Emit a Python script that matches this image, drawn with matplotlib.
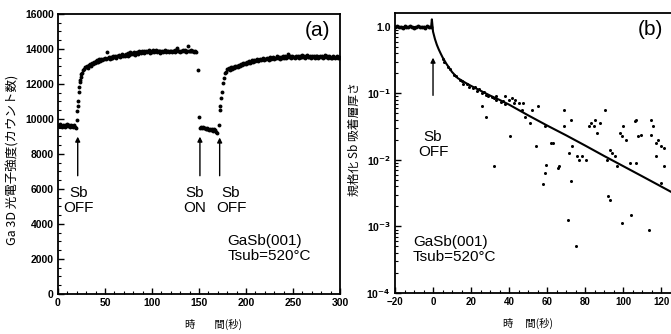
import matplotlib
matplotlib.use("Agg")
import matplotlib.pyplot as plt
from matplotlib.ticker import MultipleLocator, FixedLocator, LogLocator, NullFormatter

plt.rcParams['font.family'] = ['Liberation Sans', 'Noto Sans CJK JP']
plt.rcParams['font.weight'] = 'bold'
jp = ['Noto Sans CJK JP', 'DejaVu Sans']

# (a) Ga 3D 光電子強度 --- 時間(秒)
t_a1 = list(range(0, 20))
ga_a1 = [9650, 9580, 9700, 9620, 9560, 9680, 9610, 9540, 9660, 9600,
         9720, 9580, 9630, 9550, 9650, 9600, 9520, 9640, 9560, 9500]

t_rise1 = [20, 20.5, 21, 21.5, 22, 22.5, 23, 23.5, 24, 25, 26, 27, 28, 29]
ga_rise1 = [9950, 10450, 10750, 11000, 11550, 11800, 12100, 12250, 12400,
            12550, 12650, 12800, 12850, 12950]

t_plat1 = list(range(30, 148))
ga_plat1 = [12950, 13000, 12900, 13080, 13120, 13050, 13180, 13150, 13250, 13200,
            13300, 13250, 13350, 13280, 13400, 13330, 13420, 13380, 13450, 13400,
            13500, 13420, 13850, 13480, 13520, 13450, 13560, 13500, 13480, 13580,
            13550, 13600, 13500, 13620, 13580, 13650, 13560, 13620, 13700, 13600,
            13650, 13580, 13700, 13680, 13620, 13750, 13660, 13820, 13700, 13760,
            13720, 13800, 13680, 13780, 13820, 13740, 13860, 13800, 13760, 13900,
            13820, 13780, 13880, 13840, 13900, 13800, 13860, 13920, 13780, 13880,
            13850, 13920, 13800, 13880, 13940, 13820, 13900, 13860, 13780, 13900,
            13840, 13900, 13800, 13880, 13950, 13820, 13860, 13900, 13800, 13870,
            13880, 13820, 13900, 13860, 13940, 13800, 13880, 14050, 13860, 13900,
            13820, 13900, 13860, 13950, 13880, 13920, 13800, 13900, 14150, 13880,
            13900, 13860, 13940, 13880, 13900, 13820, 13880, 13850]

t_drop = [148.5, 150]
ga_drop = [12800, 10100]

t_a2 = list(range(151, 170))
ga_a2 = [9500, 9550, 9480, 9520, 9460, 9500, 9440, 9480, 9420, 9450,
         9380, 9420, 9350, 9400, 9300, 9420, 9350, 9280, 9220]

t_rise2 = [171, 172, 172.5, 173.5, 174.5, 175.5, 176.5, 178, 179, 180]
ga_rise2 = [9650, 10500, 10750, 11200, 11550, 12050, 12350, 12600, 12700, 12850]

t_plat2 = list(range(181, 301))
ga_plat2 = [12850, 12900, 12800, 12950, 12880, 12980, 12920, 13000, 12950, 13020,
            13050, 12980, 13100, 13050, 13150, 13080, 13180, 13120, 13200, 13150,
            13250, 13180, 13300, 13220, 13280, 13350, 13250, 13320, 13380, 13300,
            13350, 13420, 13300, 13380, 13450, 13360, 13420, 13480, 13380, 13440,
            13400, 13500, 13420, 13460, 13380, 13520, 13450, 13480, 13550, 13420,
            13500, 13460, 13580, 13480, 13520, 13440, 13560, 13500, 13600, 13480,
            13540, 13620, 13500, 13560, 13700, 13520, 13580, 13480, 13600, 13540,
            13560, 13500, 13620, 13540, 13580, 13480, 13600, 13560, 13520, 13640,
            13540, 13600, 13500, 13580, 13640, 13520, 13560, 13600, 13500, 13580,
            13550, 13620, 13500, 13580, 13540, 13600, 13480, 13560, 13620, 13520,
            13580, 13500, 13560, 13640, 13520, 13580, 13500, 13600, 13540, 13480,
            13560, 13500, 13580, 13520, 13460, 13540, 13600, 13500, 13520, 13480]

# (b) 規格化 Sb 吸着層厚さ
t_b0 = list(range(-20, 0))
sb_b0 = [1.00, 1.02, 0.99, 1.01, 0.98, 1.03, 1.00, 0.99, 1.02, 1.01,
         0.98, 1.00, 1.03, 0.99, 1.01, 1.00, 0.98, 1.02, 1.00, 1.01]

t_fit = [-1, -0.6, 0, 1, 2, 3, 4, 5, 7, 10, 13, 17, 20, 25, 30, 35, 40,
         50, 60, 70, 80, 90, 100, 110, 120, 130, 140]
sb_fit = [1.0, 1.3, 0.85, 0.66, 0.54, 0.46, 0.40, 0.35, 0.28, 0.21, 0.17,
          0.145, 0.13, 0.11, 0.093, 0.08, 0.068, 0.047, 0.033, 0.0235,
          0.0165, 0.0115, 0.0081, 0.0057, 0.004, 0.0028, 0.002]

t_near = [5, 6, 8, 9, 11, 12, 14, 15, 16, 18, 19, 21, 22, 23, 24, 26, 27,
          28, 29, 31, 32, 33, 36, 37, 38]
sb_near = [0.33, 0.30, 0.25, 0.23, 0.19, 0.18, 0.16, 0.155, 0.14, 0.14,
           0.125, 0.12, 0.125, 0.11, 0.115, 0.10, 0.105, 0.095, 0.09,
           0.088, 0.085, 0.09, 0.075, 0.078, 0.07]

t_sc = [26.0, 27.7, 32.0, 32.9, 38.1, 39.8, 41.5, 42.4, 40.7, 43.2, 45.0,
        46.7, 47.5, 48.4, 51.0, 51.9, 55.3, 54.4, 58.7, 57.9, 58.7, 59.6,
        62.2, 63.0, 65.6, 66.5, 69.1, 69.1, 71.7, 72.5, 73.4, 72.5, 70.8,
        75.1, 76.0, 76.8, 78.6, 80.3, 82.0, 82.9, 84.6, 85.4, 86.3, 88.0,
        90.6, 91.5, 92.3, 93.2, 93.2, 95.8, 98.4, 99.2, 100.1, 101.8, 103.5,
        107.0, 107.8, 106.1, 109.6, 114.7, 114.7, 115.6, 117.3, 118.2, 117.3,
        119.9, 121.6, 99.2, 104.4, 113.9, 121.6, 119.9, 107.0, 96.6, 94.1]
sb_sc = [0.064, 0.045, 0.008, 0.080, 0.090, 0.080, 0.085, 0.072, 0.0226,
         0.080, 0.072, 0.057, 0.072, 0.045, 0.036, 0.057, 0.064, 0.016,
         0.032, 0.0043, 0.0064, 0.0085, 0.018, 0.018, 0.0076, 0.0081, 0.057,
         0.032, 0.0127, 0.040, 0.016, 0.0048, 0.00127, 0.00051, 0.0114,
         0.010, 0.0114, 0.010, 0.032, 0.036, 0.032, 0.040, 0.025, 0.036,
         0.057, 0.010, 0.0029, 0.0025, 0.0143, 0.0114, 0.025, 0.0226, 0.032,
         0.020, 0.009, 0.040, 0.0226, 0.038, 0.024, 0.040, 0.024, 0.032,
         0.018, 0.020, 0.0114, 0.016, 0.015, 0.00114, 0.0015, 0.0009, 0.008,
         0.0045, 0.009, 0.008, 0.0127]

fig = plt.figure(figsize=(6.71, 3.34), dpi=100)
ax1 = fig.add_axes([0.0864, 0.1198, 0.4203, 0.8383])
ax2 = fig.add_axes([0.5887, 0.1228, 0.4616, 0.8383])

dot = dict(ls='none', marker='o', color='black', markersize=2.8, markeredgewidth=0)
small = dict(ls='none', marker='o', color='black', markersize=2.2, markeredgewidth=0)

# ---- (a) ----
ax1.plot(t_a1, ga_a1, **dot)
ax1.plot(t_rise1, ga_rise1, **dot)
ax1.plot(t_plat1, ga_plat1, **dot)
ax1.plot(t_drop, ga_drop, **dot)
ax1.plot(t_a2, ga_a2, **dot)
ax1.plot(t_rise2, ga_rise2, **dot)
ax1.plot(t_plat2, ga_plat2, **dot)

ax1.set_xlim(0, 300)
ax1.set_ylim(0, 16000)
ax1.xaxis.set_major_locator(MultipleLocator(50))
ax1.xaxis.set_minor_locator(MultipleLocator(10))
ax1.yaxis.set_major_locator(MultipleLocator(2000))
ax1.yaxis.set_minor_locator(MultipleLocator(500))

arrow = dict(arrowstyle='-|>', color='black', lw=1.0, mutation_scale=7)
lab = dict(ha='center', va='center', fontsize=11, fontweight='normal',
           linespacing=1.1)
ax1.annotate('', xy=(21, 9150), xytext=(21, 6600), arrowprops=arrow)
ax1.annotate('', xy=(151, 9150), xytext=(151, 6600), arrowprops=arrow)
ax1.annotate('', xy=(172, 9100), xytext=(172, 6600), arrowprops=arrow)
ax1.text(22, 5350, 'Sb\nOFF', **lab)
ax1.text(145, 5350, 'Sb\nON', **lab)
ax1.text(184, 5350, 'Sb\nOFF', **lab)
ax1.text(290, 15050, '(a)', ha='right', va='center', fontsize=15,
         fontweight='normal')
ax1.text(180, 2600, 'GaSb(001)\nTsub=520°C', ha='left', va='center',
         fontsize=11, fontweight='normal', linespacing=1.1)
ax1.set_ylabel('Ga 3D 光電子強度(カウント数)', family=jp, fontsize=9,
               fontweight='normal')
ax1.set_xlabel('時        間(秒)', family=jp, fontsize=7.5, fontweight='normal')
ax1.yaxis.set_label_coords(-0.135, 0.48)
ax1.xaxis.set_label_coords(0.55, -0.09)

# ---- (b) ----
ax2.set_yscale('log')
ax2.plot(t_b0, sb_b0, **dot)
ax2.plot(t_near, sb_near, **small)
ax2.plot(t_sc, sb_sc, **small)
ax2.plot(t_fit, sb_fit, color='black', lw=1.5)
ax2.plot([-20, -1], [1.0, 1.0], color='black', lw=1.5)

ax2.set_xlim(-20, 143)
ax2.set_ylim(1e-4, 1.62)
ax2.xaxis.set_major_locator(FixedLocator([-20, 0, 20, 40, 60, 80, 100, 120]))
ax2.xaxis.set_minor_locator(MultipleLocator(5))
ax2.yaxis.set_major_locator(FixedLocator([1e-4, 1e-3, 1e-2, 1e-1, 1.0]))
ax2.yaxis.set_minor_locator(LogLocator(base=10, subs=range(2, 10)))
ax2.yaxis.set_minor_formatter(NullFormatter())
ax2.set_yticklabels(['10$^{-4}$', '10$^{-3}$', '10$^{-2}$', '10$^{-1}$', '1.0'])

ax2.annotate('', xy=(0, 0.38), xytext=(0, 0.085), arrowprops=arrow)
ax2.text(0, 0.017, 'Sb\nOFF', **lab)
ax2.text(114.5, 0.9, '(b)', ha='center', va='center', fontsize=15,
         fontweight='normal')
ax2.text(-10.5, 0.00045, 'GaSb(001)\nTsub=520°C', ha='left', va='center',
         fontsize=11, fontweight='normal', linespacing=1.1)
ax2.set_ylabel('規格化 Sb 吸着層厚さ', family=jp, fontsize=8.5,
               fontweight='normal')
ax2.set_xlabel('時     間(秒)', family=jp, fontsize=7.5, fontweight='normal')
ax2.yaxis.set_label_coords(-0.11, 0.55)
ax2.xaxis.set_label_coords(0.43, -0.09)

for ax in (ax1, ax2):
    for sp in ax.spines.values():
        sp.set_linewidth(1.3)
    ax.tick_params(which='major', direction='in', length=4, width=1.0,
                   labelsize=7.5, pad=3)
    ax.tick_params(which='minor', direction='in', length=2, width=0.8)
    ax.tick_params(top=False, right=False, which='both')
ax2.tick_params(axis='x', labelsize=7)

fig.savefig('out.png', dpi=100)
